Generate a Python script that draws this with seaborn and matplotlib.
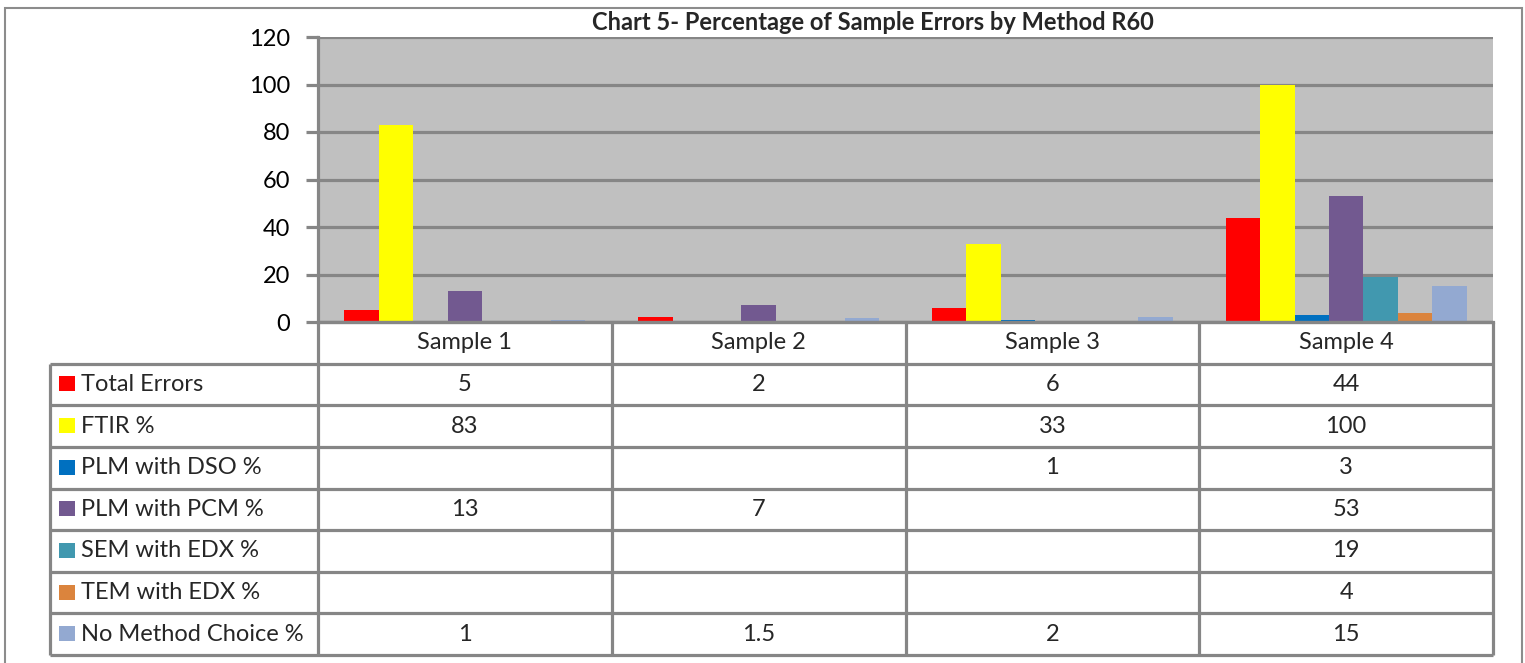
import numpy as np
import pandas as pd
import matplotlib
matplotlib.use("Agg")
import matplotlib.pyplot as plt
from matplotlib import font_manager
from matplotlib.patches import Rectangle
import seaborn as sns

# ---------------- data ----------------
samples = ["Sample 1", "Sample 2", "Sample 3", "Sample 4"]
series = ["Total Errors", "FTIR %", "PLM with DSO %", "PLM with PCM %",
          "SEM with EDX %", "TEM with EDX %", "No Method Choice %"]
total_errors = [5, 2, 6, 44]
ftir = [83, None, 33, 100]
plm_dso = [None, None, 1, 3]
plm_pcm = [13, 7, None, 53]
sem_edx = [None, None, None, 19]
tem_edx = [None, None, None, 4]
no_method = [1, 1.5, 2, 15]
colors = ["#FF0000", "#FFFF00", "#0070C0", "#725990", "#4198AF", "#DB843D", "#93A9D1"]
y_ticks = [0, 20, 40, 60, 80, 100, 120]
title = "Chart 5- Percentage of Sample Errors by Method R60"

values = [total_errors, ftir, plm_dso, plm_pcm, sem_edx, tem_edx, no_method]
rows = []
for s_name, vals in zip(series, values):
    for smp, v in zip(samples, vals):
        rows.append({"Sample": smp, "Series": s_name, "Value": v})
df = pd.DataFrame(rows)
df_bars = df.dropna(subset=["Value"])

# ---------------- style ----------------
sns.set_theme(style="white")
names = {f.name for f in font_manager.fontManager.ttflist}
base_font = "Lato" if "Lato" in names else "DejaVu Sans"
plt.rcParams["font.family"] = [base_font, "DejaVu Sans"]

W, H = 1525, 663
fig = plt.figure(figsize=(W / 100, H / 100), dpi=100)
fig.patch.set_facecolor("white")

GRID = "#868686"
FS = 17

# plot area
L, R, T, B = 318, 1493, 37, 322
ax = fig.add_axes([L / W, 1 - B / H, (R - L) / W, (B - T) / H])
sns.barplot(data=df_bars, x="Sample", y="Value", hue="Series",
            order=samples, hue_order=series, palette=colors,
            width=0.82, dodge=True, errorbar=None, saturation=1,
            linewidth=0, legend=False, ax=ax)
ax.set_facecolor("#C0C0C0")
ax.set_xlim(-0.5, 3.5)
ax.set_ylim(0, 120)
ax.set_yticks(y_ticks)
ax.set_xticks([])
ax.set_xlabel("")
ax.set_ylabel("")
ax.yaxis.grid(True, color=GRID, lw=2.3)
ax.set_axisbelow(True)
for sp in ["top", "right"]:
    ax.spines[sp].set_visible(False)
for sp in ["left", "bottom"]:
    ax.spines[sp].set_color(GRID)
    ax.spines[sp].set_linewidth(2.3)
ax.tick_params(axis="y", length=9, width=2.3, color=GRID, labelsize=FS,
               pad=11, labelcolor="black", left=True)

fig.text(873 / W, 1 - 22 / H, title, ha="center", va="center",
         fontsize=17, fontweight="bold")

# ---------------- data table ----------------
TL, TT, TB = 50, 322, 655
cat_px = (R - L) / 4.0
lab_w = (L - TL) / cat_px
nrows = len(series) + 1
tax = fig.add_axes([TL / W, 1 - TB / H, (R - TL) / W, (TB - TT) / H])
tax.set_xlim(-0.5 - lab_w, 3.5)
tax.set_ylim(nrows, 0)
tax.axis("off")
px_x = 1.0 / cat_px
px_y = nrows / (TB - TT)

lw = 2.3
tax.hlines([0], -0.5, 3.5, color=GRID, lw=lw, clip_on=False)
tax.hlines(np.arange(1, nrows + 1), -0.5 - lab_w, 3.5, color=GRID, lw=lw, clip_on=False)
tax.vlines(np.arange(-0.5, 4.0, 1.0), 0, nrows, color=GRID, lw=lw, clip_on=False)
tax.vlines([-0.5 - lab_w], 1, nrows, color=GRID, lw=lw, clip_on=False)

for i, smp in enumerate(samples):
    tax.text(i, 0.5, smp, ha="center", va="center", fontsize=FS)

for r, (s_name, vals, c) in enumerate(zip(series, values, colors)):
    yc = r + 1.5
    x0 = -0.5 - lab_w
    tax.add_patch(Rectangle((x0 + 9 * px_x, yc - 8 * px_y), 16 * px_x, 15 * px_y,
                            facecolor=c, edgecolor="none", clip_on=False))
    tax.text(x0 + 31 * px_x, yc, s_name, ha="left", va="center", fontsize=FS)
    for i, v in enumerate(vals):
        if v is not None:
            tax.text(i, yc, f"{v:g}", ha="center", va="center", fontsize=FS)

# outer chart border
fig.add_artist(Rectangle((5 / W, -0.05), (1522 - 5) / W, 1.05 - 8 / H,
                         transform=fig.transFigure, fill=False,
                         edgecolor="#8C8C8C", lw=1.5))

fig.savefig("out.png", dpi=100, facecolor="white")
